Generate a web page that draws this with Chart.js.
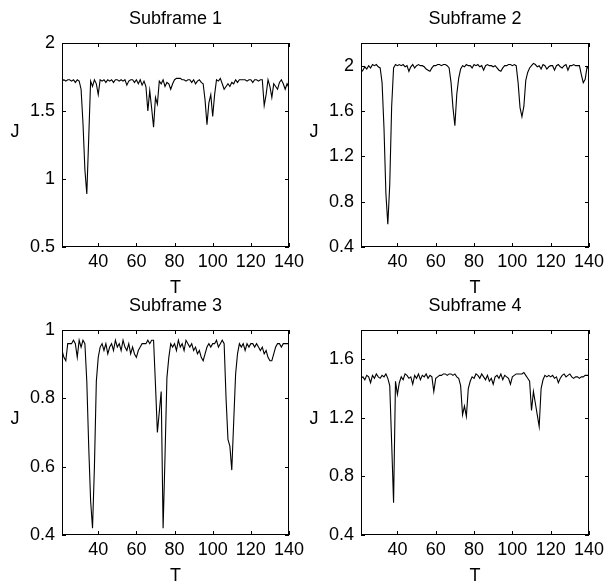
<!DOCTYPE html>
<html>
<head>
<meta charset="utf-8">
<title>Subframes</title>
<script src="https://cdn.jsdelivr.net/npm/chart.js@4/dist/chart.umd.min.js"></script>
<style>
  body { margin: 0; background: #fff; }
  #wrap { position: relative; width: 605px; height: 588px; overflow: hidden; }
  #wrap canvas { position: absolute; }
</style>
</head>
<body>
<div id="wrap">
  <canvas id="sf1" width="310" height="300" style="left:0;top:0"></canvas>
  <canvas id="sf3" width="310" height="298" style="left:0;top:290px"></canvas>
  <canvas id="sf2" width="305" height="300" style="left:300px;top:0"></canvas>
  <canvas id="sf4" width="305" height="298" style="left:300px;top:290px"></canvas>
</div>
<script>
// T axis (frame index)
const T = [
  21,22,23,24,25,26,27,28,29,30,
  31,32,33,34,35,36,37,38,39,40,
  41,42,43,44,45,46,47,48,49,50,
  51,52,53,54,55,56,57,58,59,60,
  61,62,63,64,65,66,67,68,69,70,
  71,72,73,74,75,76,77,78,79,80,
  81,82,83,84,85,86,87,88,89,90,
  91,92,93,94,95,96,97,98,99,100,
  101,102,103,104,105,106,107,108,109,110,
  111,112,113,114,115,116,117,118,119,120,
  121,122,123,124,125,126,127,128,129,130,
  131,132,133,134,135,136,137,138,139,140
];

// J values
const J1 = [
  1.72,1.73,1.72,1.73,1.73,1.72,1.73,1.71,1.73,1.72,
  1.66,1.41,1.07,0.89,1.30,1.72,1.68,1.73,1.70,1.62,
  1.73,1.72,1.73,1.71,1.73,1.72,1.73,1.71,1.73,1.73,
  1.72,1.73,1.72,1.73,1.69,1.72,1.73,1.73,1.71,1.73,
  1.70,1.73,1.69,1.72,1.68,1.50,1.65,1.52,1.38,1.60,
  1.55,1.72,1.70,1.73,1.68,1.71,1.70,1.66,1.70,1.73,
  1.74,1.74,1.74,1.73,1.73,1.72,1.73,1.73,1.71,1.73,
  1.70,1.72,1.73,1.71,1.70,1.58,1.40,1.56,1.62,1.46,
  1.62,1.73,1.72,1.74,1.70,1.66,1.68,1.70,1.68,1.71,
  1.70,1.73,1.71,1.73,1.73,1.73,1.73,1.72,1.73,1.73,
  1.71,1.73,1.73,1.72,1.73,1.73,1.54,1.62,1.73,1.68,
  1.60,1.70,1.68,1.66,1.71,1.73,1.70,1.66,1.70,1.67
];
const J2 = [
  1.94,1.96,1.99,1.97,2.00,1.98,2.01,2.00,2.01,1.99,
  1.98,1.85,1.45,0.87,0.60,0.95,1.64,1.98,2.01,2.00,
  2.01,2.00,2.01,1.99,2.00,1.95,1.99,2.01,1.98,2.00,
  2.01,2.00,2.00,1.99,1.97,1.96,1.95,1.98,2.00,2.00,
  2.01,2.01,2.00,2.01,2.01,2.00,1.98,1.85,1.63,1.47,
  1.75,1.89,1.97,2.00,1.99,2.01,2.00,2.00,1.98,2.01,
  2.00,2.01,1.99,2.00,1.96,2.00,2.01,2.00,2.00,1.99,
  2.00,1.98,1.96,1.95,1.98,2.00,2.00,2.01,2.01,2.00,
  2.01,2.00,1.85,1.63,1.55,1.64,1.87,1.94,1.98,2.00,
  2.02,2.01,1.99,2.00,1.97,2.01,2.00,1.97,1.99,2.00,
  2.00,1.96,2.00,2.01,1.99,1.98,2.00,2.01,1.96,2.00,
  2.00,2.01,2.00,2.00,2.00,1.92,1.85,1.88,1.99,1.97
];
const J3 = [
  0.94,0.92,0.91,0.96,0.96,0.96,0.97,0.96,0.92,0.97,
  0.95,0.97,0.96,0.85,0.66,0.50,0.42,0.60,0.85,0.92,
  0.95,0.96,0.94,0.96,0.93,0.95,0.96,0.94,0.97,0.95,
  0.96,0.94,0.97,0.95,0.94,0.96,0.93,0.95,0.93,0.92,
  0.94,0.95,0.96,0.96,0.96,0.97,0.96,0.97,0.97,0.84,
  0.70,0.76,0.82,0.42,0.63,0.86,0.92,0.96,0.95,0.96,
  0.94,0.97,0.95,0.96,0.94,0.97,0.96,0.95,0.96,0.94,
  0.95,0.93,0.94,0.92,0.91,0.93,0.95,0.96,0.95,0.96,
  0.96,0.97,0.95,0.96,0.97,0.96,0.80,0.68,0.66,0.59,
  0.73,0.87,0.93,0.96,0.95,0.96,0.94,0.96,0.95,0.96,
  0.96,0.95,0.96,0.95,0.94,0.95,0.93,0.94,0.92,0.91,
  0.91,0.93,0.95,0.96,0.96,0.95,0.96,0.96,0.96,0.96
];
const J4 = [
  1.47,1.48,1.46,1.49,1.48,1.44,1.49,1.47,1.50,1.48,
  1.47,1.49,1.48,1.50,1.47,1.42,1.03,0.62,1.45,1.36,
  1.44,1.48,1.46,1.50,1.49,1.47,1.48,1.43,1.49,1.47,
  1.50,1.46,1.49,1.48,1.50,1.47,1.49,1.48,1.38,1.47,
  1.48,1.49,1.49,1.50,1.50,1.49,1.50,1.50,1.49,1.50,
  1.48,1.47,1.42,1.22,1.28,1.21,1.40,1.45,1.48,1.47,
  1.50,1.49,1.47,1.50,1.48,1.46,1.49,1.45,1.47,1.43,
  1.48,1.49,1.47,1.50,1.46,1.49,1.48,1.47,1.43,1.48,
  1.49,1.50,1.50,1.50,1.50,1.51,1.49,1.47,1.45,1.25,
  1.38,1.30,1.22,1.14,1.40,1.46,1.49,1.48,1.49,1.48,
  1.49,1.47,1.48,1.44,1.47,1.49,1.50,1.48,1.49,1.50,
  1.48,1.47,1.48,1.48,1.47,1.48,1.48,1.49,1.49,1.49
];

const titles = ['Subframe 1', 'Subframe 2', 'Subframe 3', 'Subframe 4'];
const xRange = [21, 140];
const xTicks = [40, 60, 80, 100, 120, 140];
const yRange1 = [0.5, 2];   const yTicks1 = [0.5, 1, 1.5, 2];
const yRange2 = [0.4, 2.2]; const yTicks2 = [0.4, 0.8, 1.2, 1.6, 2];
const yRange3 = [0.4, 1];   const yTicks3 = [0.4, 0.6, 0.8, 1];
const yRange4 = [0.4, 1.8]; const yTicks4 = [0.4, 0.8, 1.2, 1.6];

Chart.defaults.font.family = '"Liberation Sans", Arial, sans-serif';
Chart.defaults.font.size = 18;
Chart.defaults.color = '#000';

// matlab style box, inward ticks on all four sides, title and axis names
const matlabAxes = {
  id: 'matlabAxes',
  afterDraw(chart, args, opts) {
    const { ctx, chartArea: a, scales: { x, y } } = chart;
    ctx.save();
    ctx.strokeStyle = '#000';
    ctx.lineWidth = 1;
    ctx.strokeRect(a.left + 0.5, a.top + 0.5, a.right - a.left - 1, a.bottom - a.top - 1);
    const tl = 4;
    ctx.beginPath();
    x.ticks.forEach(t => {
      const px = Math.round(x.getPixelForValue(t.value)) + 0.5;
      ctx.moveTo(px, a.bottom); ctx.lineTo(px, a.bottom - tl);
      ctx.moveTo(px, a.top); ctx.lineTo(px, a.top + tl);
    });
    y.ticks.forEach(t => {
      const py = Math.round(y.getPixelForValue(t.value)) + 0.5;
      ctx.moveTo(a.left, py); ctx.lineTo(a.left + tl, py);
      ctx.moveTo(a.right, py); ctx.lineTo(a.right - tl, py);
    });
    ctx.stroke();

    ctx.fillStyle = '#000';
    ctx.font = '18px "Liberation Sans", Arial, sans-serif';
    ctx.textAlign = 'center';
    ctx.textBaseline = 'middle';
    const cx = (a.left + a.right) / 2;
    ctx.fillText(opts.title, cx, a.top - 24);
    ctx.fillText('J', a.left - 47, (a.top + a.bottom) / 2 - 13);
    ctx.fillText('T', cx, a.bottom + 41);
    ctx.restore();
  }
};

const panels = [
  { id: 'sf1', series: J1, yRange: yRange1, yTicks: yTicks1, title: titles[0], top: 43, right: 21, yw: 62, xh: 53 },
  { id: 'sf2', series: J2, yRange: yRange2, yTicks: yTicks2, title: titles[1], top: 43, right: 16, yw: 61, xh: 53 },
  { id: 'sf3', series: J3, yRange: yRange3, yTicks: yTicks3, title: titles[2], top: 40, right: 21, yw: 62, xh: 53 },
  { id: 'sf4', series: J4, yRange: yRange4, yTicks: yTicks4, title: titles[3], top: 40, right: 16, yw: 61, xh: 53 }
];

panels.forEach(p => {
  const ctx = document.getElementById(p.id).getContext('2d');
  new Chart(ctx, {
    type: 'line',
    data: {
      datasets: [{
        data: T.map((t, i) => ({ x: t, y: p.series[i] })),
        borderColor: '#000',
        borderWidth: 1.1,
        pointRadius: 0,
        tension: 0,
        fill: false
      }]
    },
    options: {
      responsive: false,
      animation: false,
      events: [],
      layout: { padding: { top: p.top, right: p.right, left: 0, bottom: 0 } },
      plugins: {
        legend: { display: false },
        tooltip: { enabled: false },
        matlabAxes: { title: p.title }
      },
      scales: {
        x: {
          type: 'linear',
          min: xRange[0], max: xRange[1],
          grid: { display: false, drawTicks: false },
          border: { display: false },
          ticks: { padding: 4, autoSkip: false, maxRotation: 0 },
          afterBuildTicks: s => { s.ticks = xTicks.map(v => ({ value: v })); },
          afterFit: s => { s.height = p.xh; s.paddingLeft = 0; s.paddingRight = 0; }
        },
        y: {
          min: p.yRange[0], max: p.yRange[1],
          grid: { display: false, drawTicks: false },
          border: { display: false },
          ticks: { padding: 7, autoSkip: false, callback: v => String(v) },
          afterBuildTicks: s => { s.ticks = p.yTicks.map(v => ({ value: v })); },
          afterFit: s => { s.width = p.yw; s.paddingTop = 0; s.paddingBottom = 0; }
        }
      }
    },
    plugins: [matlabAxes]
  });
});
</script>
</body>
</html>
